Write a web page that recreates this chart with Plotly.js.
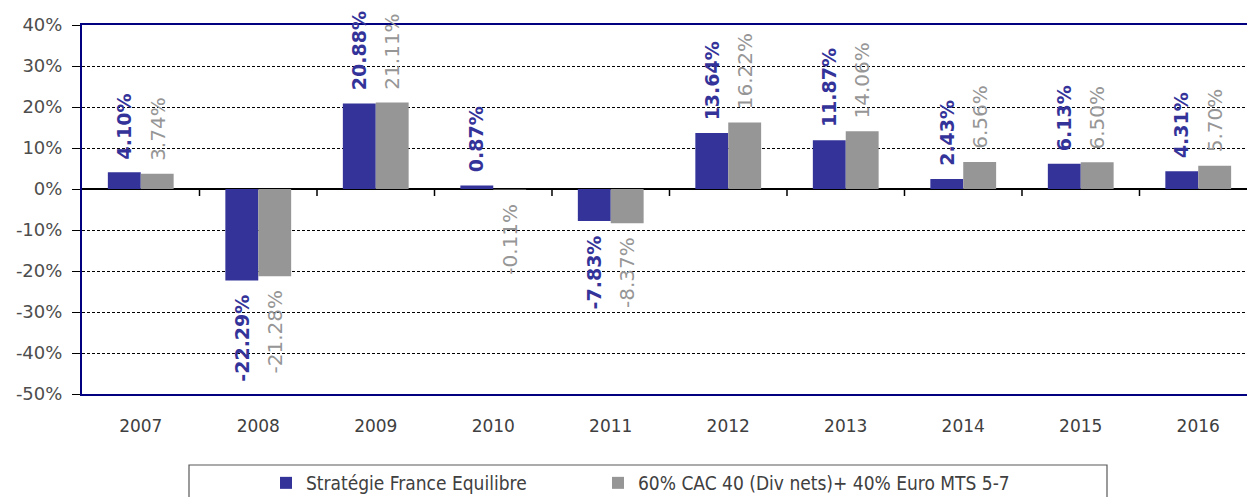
<!DOCTYPE html>
<html><head><meta charset="utf-8">
<script src="https://cdn.plot.ly/plotly-3.0.1.min.js"></script>
<style>html,body{margin:0;padding:0;background:#fff}#chart{width:1247px;height:497px}</style>
</head><body><div id="chart"></div>
<script>
const years = ['2007','2008','2009','2010','2011','2012','2013','2014','2015','2016'];
const strategie = [4.10,-22.29,20.88,0.87,-7.83,13.64,11.87,2.43,6.13,4.31];
const benchmark = [3.74,-21.28,21.11,-0.11,-8.37,16.22,14.06,6.56,6.50,5.70];
const seriesNames = ['Stratégie France Equilibre','60% CAC 40 (Div nets)+ 40% Euro MTS 5-7'];
const seriesColors = ['#333399','#969696'];
const yTickVals = [-50,-40,-30,-20,-10,0,10,20,30,40];
const yTickText = yTickVals.map(v => v + '%');

const BARGAP = 0.44;
const half = (1 - BARGAP) / 4;

const traces = [
  {type:'bar', name:seriesNames[0], x:years, y:strategie, legend:'legend', marker:{color:seriesColors[0], line:{width:0}}, hoverinfo:'skip'},
  {type:'bar', name:seriesNames[1], x:years, y:benchmark, legend:'legend2', marker:{color:seriesColors[1], line:{width:0}}, hoverinfo:'skip'}
];

function labels(vals, offset, color, bold, size) {
  return vals.map((v, i) => ({
    x: i + offset, y: v, xref:'x', yref:'y',
    text: bold ? '<b>' + v.toFixed(2) + '%</b>' : v.toFixed(2) + '%',
    textangle: -90, showarrow:false, xanchor:'center',
    yanchor: v >= 0 ? 'bottom' : 'top', yshift: v >= 0 ? 11 : -12,
    font:{family:'DejaVu Sans, Verdana, sans-serif', size:size, color:color}
  }));
}

const xRange = [-0.5, 9.415];
// category boundaries: tick marks hanging from the zero line
const boundaries = years.slice(1).map((_, i) => i + 0.5);
const zeroTicks = boundaries.map(b => ({
  type:'line', xref:'x', yref:'y', ysizemode:'pixel', yanchor:0,
  x0:b, x1:b, y0:0, y1:-7, line:{color:'#000', width:1.5}
}));
const legendFont = {family:'DejaVu Sans Condensed, DejaVu Sans, sans-serif', size:19, color:'#404040'};

const layout = {
  width:1247, height:497,
  margin:{l:82, r:0, t:25, b:103, autoexpand:false},
  paper_bgcolor:'#fff', plot_bgcolor:'#fff',
  barmode:'group', bargap:BARGAP, bargroupgap:0,
  showlegend:true,
  xaxis:{type:'category', range:xRange, showline:true, linecolor:'#000080', linewidth:2, mirror:true,
         ticks:'', showgrid:false, zeroline:false, ticklabelstandoff:16,
         tickfont:{family:'DejaVu Sans, Verdana, sans-serif', size:17, color:'#404040'}},
  yaxis:{range:[-50,40], tickmode:'array', tickvals:yTickVals, ticktext:yTickText,
         showline:true, linecolor:'#000080', linewidth:2, ticks:'outside', ticklen:8, tickwidth:1, tickcolor:'#000',
         showgrid:true, gridcolor:'#000', gridwidth:1, griddash:'3px,2px',
         zeroline:true, zerolinecolor:'#000', zerolinewidth:1.5, ticklabelstandoff:6,
         tickfont:{family:'DejaVu Sans, Verdana, sans-serif', size:18, color:'#4d4d4d'}},
  legend:{orientation:'h', x:(266-82)/1165, y:(394-464)/369, xanchor:'left', yanchor:'top',
          bgcolor:'rgba(0,0,0,0)', font:legendFont},
  legend2:{orientation:'h', x:(598-82)/1165, y:(394-464)/369, xanchor:'left', yanchor:'top',
          bgcolor:'rgba(0,0,0,0)', font:legendFont},
  shapes:[{type:'rect', xref:'paper', yref:'paper', x0:(189-82)/1165, x1:(1107-82)/1165, y0:-0.5, y1:(394-465)/369,
           line:{color:'#595959', width:1.2}, fillcolor:'rgba(0,0,0,0)', layer:'below'}].concat(zeroTicks),
  annotations: labels(strategie, -half, seriesColors[0], true, 19).concat(labels(benchmark, half, seriesColors[1], false, 20))
};

Plotly.newPlot('chart', traces, layout, {displayModeBar:false, staticPlot:true});
</script></body></html>
